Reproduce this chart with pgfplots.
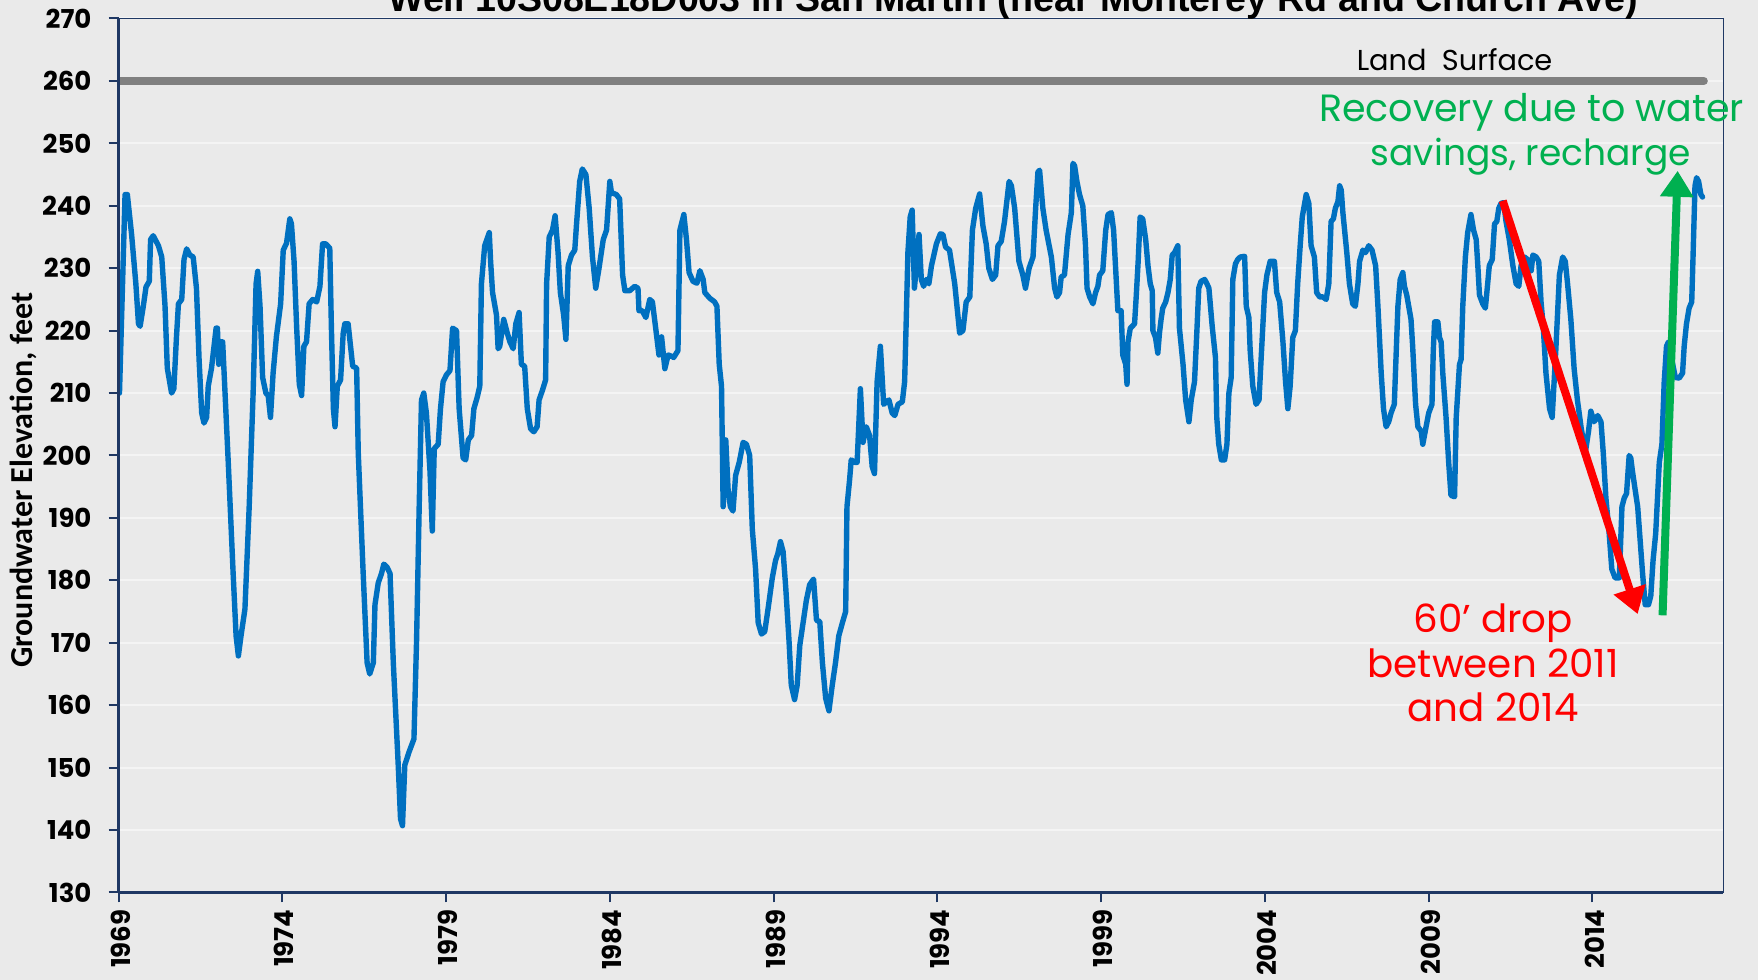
\documentclass[border=0pt]{standalone}
\usepackage{fontspec}
\usepackage{pgfplots}
\pgfplotsset{compat=1.18}
\usetikzlibrary{arrows.meta}
\setmainfont{Poppins}
\newfontfamily\tickfont{Poppins}
\newfontfamily\calfont{Carlito}
\newfontfamily\arialfont{Liberation Sans}
\definecolor{bgc}{HTML}{EAEAEA}
\definecolor{gridc}{HTML}{F4F4F4}
\definecolor{navy}{HTML}{1F3864}
\definecolor{wblue}{HTML}{0070C0}
\definecolor{xgreen}{HTML}{00B050}
\definecolor{lgray}{HTML}{808080}
\begin{document}
\begin{tikzpicture}
\fill[bgc] (0,0) rectangle (879pt,490pt);
\begin{axis}[
  at={(59.25pt,43.75pt)}, anchor=south west,
  scale only axis, width=802.5pt, height=437pt,
  xmin=1969, xmax=2018, ymin=130, ymax=270,
  clip mode=individual,
  xtick={1969,1974,...,2014}, ytick={130,140,...,270},
  axis line style={draw=navy, line width=0.9pt},
  ymajorgrids, grid style={draw=gridc, line width=1pt},
  major tick length=5pt, tick align=outside,
  tick style={draw=navy, line width=1pt},
  xtick pos=bottom, ytick pos=left,
  /pgf/number format/1000 sep={},
  /pgf/number format/assume math mode=true,
  xticklabel style={rotate=90, anchor=east, yshift=-1pt, font=\tickfont\bfseries\fontsize{13}{13}\selectfont},
  yticklabel style={xshift=-5pt, font=\tickfont\bfseries\fontsize{13}{13}\selectfont},
]
\addplot[lgray, line width=4pt, line cap=round] coordinates {(1968.5,260) (2017.4,260)};
\addplot[wblue, line width=2.7pt, line join=round, line cap=round] coordinates {
(1969.00,210) (1969.03,210) (1969.20,241.8) (1969.27,241.8) (1969.40,235.4) (1969.53,227.5) (1969.61,221.1) (1969.66,220.7) (1969.76,224) (1969.84,227) (1969.94,227.9) (1969.98,234.6) (1970.06,235.2) (1970.22,233.6) (1970.32,231.8) (1970.42,224) (1970.49,214) (1970.62,210) (1970.69,210.7) (1970.77,219) (1970.83,224.3) (1970.93,225) (1971.00,231.4) (1971.08,233.1) (1971.18,232.1) (1971.28,231.8) (1971.38,226.8) (1971.46,215.4) (1971.54,206.8) (1971.61,205.2) (1971.69,206.1) (1971.74,211.1) (1971.84,214) (1971.98,220.4) (1972.02,220.4) (1972.06,214.6) (1972.10,218.2) (1972.18,218.2) (1972.35,199) (1972.50,181.1) (1972.59,171.1) (1972.66,167.9) (1972.74,171.1) (1972.86,175.4) (1972.99,191.8) (1973.11,210) (1973.20,227.5) (1973.25,229.5) (1973.32,224) (1973.40,212.5) (1973.50,210) (1973.57,209.6) (1973.64,206.1) (1973.72,213.2) (1973.82,219) (1973.95,224.3) (1974.03,232.9) (1974.13,234) (1974.23,237.9) (1974.28,237.1) (1974.36,231.1) (1974.44,220.4) (1974.52,211.4) (1974.59,209.6) (1974.66,217.5) (1974.74,218.2) (1974.82,224.3) (1974.93,225) (1975.05,224.6) (1975.15,227.1) (1975.23,233.9) (1975.33,233.9) (1975.45,233.2) (1975.50,220.4) (1975.56,207.5) (1975.61,204.6) (1975.68,211.1) (1975.78,212.1) (1975.86,219.6) (1975.91,221.1) (1976.01,221.1) (1976.15,214.3) (1976.27,214) (1976.32,200.4) (1976.47,181.1) (1976.59,166.8) (1976.67,165) (1976.78,166.8) (1976.83,176.1) (1976.93,179.6) (1977.03,181.1) (1977.10,182.6) (1977.20,182.1) (1977.29,181.1) (1977.39,166.8) (1977.54,150.4) (1977.61,141.8) (1977.67,140.7)
(1977.74,150.4) (1977.87,152.5) (1978.02,154.6) (1978.10,170.4) (1978.18,191.8) (1978.25,208.9) (1978.32,210) (1978.40,206.8) (1978.51,197.5) (1978.58,187.9) (1978.64,201.1) (1978.76,201.8) (1978.83,207.5) (1978.91,211.8) (1979.01,212.9) (1979.12,213.6) (1979.20,220.4) (1979.32,220) (1979.40,207.5) (1979.52,199.6) (1979.60,199.3) (1979.68,202.5) (1979.78,203.2) (1979.85,207.5) (1979.95,209.3) (1980.03,211.1) (1980.08,227.5) (1980.18,233.6) (1980.32,235.7) (1980.36,231.1) (1980.42,226.1) (1980.54,222.5) (1980.59,217.1) (1980.64,217.5) (1980.76,221.8) (1980.87,219.6) (1980.95,218.2) (1981.05,217.1) (1981.13,221.1) (1981.23,222.9) (1981.30,214.6) (1981.40,214.3) (1981.48,207.5) (1981.58,204.3) (1981.68,203.8) (1981.78,204.6) (1981.84,208.9) (1981.94,210.4) (1982.04,212.1) (1982.07,227.5) (1982.15,235) (1982.25,236.1) (1982.33,238.4) (1982.42,232.5) (1982.49,226.1) (1982.59,222.5) (1982.66,218.6) (1982.73,230.4) (1982.83,232.1) (1982.93,232.9) (1982.98,236.8) (1983.08,243.9) (1983.16,245.9) (1983.27,245) (1983.37,239.6) (1983.47,231.8) (1983.57,226.8) (1983.67,230) (1983.80,234.6) (1983.90,236.1) (1984.00,243.9) (1984.05,242.1) (1984.20,241.8) (1984.30,241.1) (1984.39,228.9) (1984.46,226.4) (1984.61,226.4) (1984.76,227.1) (1984.86,226.8) (1984.89,223.2) (1984.99,223.2) (1985.10,222.1) (1985.22,225) (1985.30,224.6) (1985.40,220.4) (1985.50,216.1) (1985.58,219) (1985.68,213.9) (1985.78,216.1) (1985.88,215.9) (1985.95,215.7) (1986.08,216.8) (1986.14,236.1) (1986.26,238.6) (1986.34,234.6) (1986.42,229.3) (1986.54,227.9) (1986.66,227.6) (1986.75,229.6)
(1986.85,228.2) (1986.90,226.1) (1987.05,225.2) (1987.20,224.6) (1987.27,223.9) (1987.34,214.6) (1987.41,211.1) (1987.46,191.8) (1987.54,202.5) (1987.61,194.6) (1987.68,191.8) (1987.76,191.1) (1987.84,196.8) (1987.95,198.9) (1988.07,202.1) (1988.17,201.8) (1988.27,200) (1988.35,188.2) (1988.45,181.8) (1988.53,173.2) (1988.63,171.4) (1988.73,171.8) (1988.83,175.4) (1988.96,180.4) (1989.06,183.2) (1989.13,184.3) (1989.21,186.2) (1989.29,184.6) (1989.37,178.9) (1989.47,170.4) (1989.54,163.2) (1989.64,160.9) (1989.72,163.2) (1989.80,169.6) (1989.90,173.2) (1990.00,176.8) (1990.10,179.3) (1990.22,180.2) (1990.31,173.6) (1990.41,173.4) (1990.49,166.8) (1990.59,161.1) (1990.69,159.1) (1990.79,163.2) (1990.89,166.8) (1990.99,171.1) (1991.10,173.2) (1991.20,175) (1991.24,191.8) (1991.32,196.1) (1991.37,199.3) (1991.48,198.9) (1991.55,198.9) (1991.65,210.7) (1991.73,202.1) (1991.83,204.6) (1991.93,203.2) (1992.01,198.2) (1992.08,197.1) (1992.16,211.8) (1992.26,217.5) (1992.36,208.2) (1992.52,208.9) (1992.62,206.8) (1992.70,206.4) (1992.80,208.2) (1992.93,208.6) (1993.00,211.8) (1993.05,221.8) (1993.10,232.5) (1993.17,238.2) (1993.23,239.3) (1993.30,226.8) (1993.37,231.1) (1993.44,235.4) (1993.51,228.2) (1993.58,227.1) (1993.66,228.2) (1993.74,227.5) (1993.82,230.4) (1993.97,233.9) (1994.09,235.5) (1994.17,235.4) (1994.25,233.4) (1994.37,232.9) (1994.53,227.5) (1994.68,219.6) (1994.78,220) (1994.88,224.6) (1994.99,225.4) (1995.07,236.1) (1995.17,239.6) (1995.29,241.9)
(1995.39,236.8) (1995.49,233.9) (1995.57,230) (1995.68,228.2) (1995.78,228.9) (1995.85,233.6) (1995.95,234.3) (1996.05,237.5) (1996.19,243.9) (1996.26,243.2) (1996.36,239.6) (1996.49,231.1) (1996.61,228.9) (1996.69,226.8) (1996.80,230) (1996.92,231.8) (1997.00,239.6) (1997.07,245.4) (1997.12,245.7) (1997.22,239.6) (1997.32,236.1) (1997.48,231.8) (1997.58,226.8) (1997.65,225.4) (1997.73,226.1) (1997.78,228.6) (1997.88,228.9) (1997.99,235.4) (1998.09,238.9) (1998.14,246.8) (1998.19,246.4) (1998.26,243.9) (1998.34,241.8) (1998.44,240) (1998.52,233.9) (1998.57,226.8) (1998.65,225.4) (1998.75,224.3) (1998.83,226.1) (1998.90,227.1) (1998.95,228.9) (1999.05,229.6) (1999.14,236.1) (1999.21,238.6) (1999.31,238.9) (1999.38,236.1) (1999.46,228.2) (1999.51,223.2) (1999.61,223.2) (1999.66,216.1) (1999.75,214.6) (1999.79,211.4) (1999.82,218.2) (1999.89,220.4) (1999.95,220.7) (2000.02,221.1) (2000.07,225.4) (2000.13,231.1) (2000.19,238.2) (2000.27,237.9) (2000.36,234.6) (2000.43,230.4) (2000.50,227.5) (2000.56,226.4) (2000.58,220) (2000.66,218.9) (2000.73,216.4) (2000.78,219.6) (2000.83,221.8) (2000.88,223.6) (2000.97,224.6) (2001.04,226.1) (2001.11,228.2) (2001.17,232.1) (2001.24,232.5) (2001.34,233.6) (2001.39,220.4) (2001.50,214.6) (2001.58,208.9) (2001.68,205.4) (2001.75,208.9) (2001.85,211.8) (2001.92,219.6) (2001.98,226.8) (2002.05,227.9) (2002.16,228.2) (2002.23,227.5) (2002.29,226.8) (2002.39,220.7) (2002.49,215.7) (2002.53,206.1) (2002.59,201.8) (2002.67,199.3) (2002.77,199.3) (2002.84,201.8) (2002.90,210) (2002.97,212.5) (2003.02,228.2) (2003.10,230.7) (2003.17,231.4) (2003.25,231.8) (2003.38,231.9) (2003.43,223.9) (2003.51,222.1) (2003.55,216.8) (2003.63,211.1) (2003.73,208.2) (2003.82,208.9) (2003.89,216.1) (2003.99,226.1) (2004.06,228.9) (2004.16,231.1) (2004.29,231.1)
(2004.36,226.1) (2004.45,224.6) (2004.55,218.2) (2004.63,211.8) (2004.70,207.5) (2004.77,211.1) (2004.85,218.9) (2004.93,220) (2005.00,227.5) (2005.08,233.9) (2005.14,238.2) (2005.26,241.8) (2005.34,240.4) (2005.41,233.6) (2005.51,231.8) (2005.58,226.1) (2005.67,225.4) (2005.77,225.4) (2005.87,225) (2005.95,227.5) (2006.02,237.5) (2006.09,237.9) (2006.15,239.6) (2006.23,240.7) (2006.28,243.2) (2006.33,242.5) (2006.38,238.9) (2006.50,232.5) (2006.58,227.5) (2006.68,224.3) (2006.76,223.9) (2006.84,227.5) (2006.89,231.1) (2006.99,232.9) (2007.07,232.5) (2007.17,233.6) (2007.27,232.9) (2007.38,230.4) (2007.45,223.9) (2007.55,213.2) (2007.62,207.5) (2007.70,204.6) (2007.78,205.4) (2007.85,206.8) (2007.95,208.2) (2008.01,216.8) (2008.06,223.9) (2008.13,228.2) (2008.21,229.3) (2008.26,227.1) (2008.33,225.7) (2008.39,223.9) (2008.46,221.8) (2008.51,217.5) (2008.60,208.2) (2008.67,204.6) (2008.77,203.9) (2008.82,201.8) (2008.87,203.2) (2008.92,204.6) (2009.00,206.8) (2009.10,208.2) (2009.14,216.8) (2009.18,221.4) (2009.28,221.4) (2009.33,218.9) (2009.38,218.2) (2009.43,213.2) (2009.53,206.1) (2009.61,198.9) (2009.68,193.6) (2009.79,193.4) (2009.84,206.1) (2009.94,214.6) (2009.99,215.4) (2010.04,223.9) (2010.12,231.8) (2010.19,235.7) (2010.29,238.6) (2010.37,236.1) (2010.45,234.6) (2010.50,230.4) (2010.55,225.7) (2010.65,224.3) (2010.73,223.6) (2010.80,227.5) (2010.85,230.4) (2010.94,231.4) (2011.01,237.1) (2011.08,237.5) (2011.14,239.6) (2011.21,240.4) (2011.29,240.5) (2011.36,237.5) (2011.46,234.6) (2011.57,230.4) (2011.67,227.5) (2011.75,227.1) (2011.82,230.4) (2011.92,231.8) (2012.02,231.4) (2012.13,229.6) (2012.18,232.1) (2012.28,231.8) (2012.36,231.1) (2012.43,224.6) (2012.50,220.4) (2012.58,213.2) (2012.69,207.5) (2012.77,206.1)
(2012.88,216.8) (2012.99,228.9) (2013.09,231.8) (2013.17,231.1) (2013.24,227.5) (2013.34,221.8) (2013.44,213.9) (2013.54,208.9) (2013.65,204.6) (2013.78,200.4) (2013.88,203.9) (2013.95,207.1) (2014.05,205.4) (2014.16,206.4) (2014.26,205.4) (2014.33,200.4) (2014.41,193.2) (2014.51,187.5) (2014.59,181.8) (2014.69,180.4) (2014.82,180.4) (2014.90,191.8) (2014.97,193.2) (2015.04,193.9) (2015.12,200) (2015.17,199.6) (2015.22,197.5) (2015.32,193.9) (2015.38,191.8) (2015.45,186.8) (2015.53,181.1) (2015.61,176.1) (2015.71,176.1) (2015.78,177.5) (2015.85,183.2) (2015.93,187.5) (2016.04,198.9) (2016.12,201.8) (2016.19,211.8) (2016.26,217.5) (2016.32,218.2) (2016.42,215.4) (2016.53,212.5) (2016.65,212.4) (2016.75,213.2) (2016.80,217.5) (2016.87,221.1) (2016.95,223.6) (2017.03,224.6) (2017.07,231.8) (2017.13,243.2) (2017.18,244.5) (2017.24,243.9) (2017.31,241.8) (2017.36,241.4)
};
\draw[red, line width=4pt, -{Triangle[width=16pt,length=13pt]}] (axis cs:2011.26,240.8) -- (axis cs:2015.38,174.6);
\draw[xgreen, line width=4pt, -{Triangle[width=16pt,length=13pt]}] (axis cs:2016.14,174.4) -- (axis cs:2016.60,245.6);
\node[anchor=base, font=\fontsize{14.4}{14.4}\selectfont] at (axis cs:2009.79,261.7) {Land\ \ Surface};
\node[anchor=base, text=xgreen, font=\fontsize{19}{19}\selectfont] at (axis cs:2012.14,253.5) {Recovery due to water};
\node[anchor=base, text=xgreen, font=\fontsize{18}{18}\selectfont] at (axis cs:2012.12,246.4) {savings, recharge};
\node[anchor=base, text=red, font=\fontsize{19.4}{19.4}\selectfont] at (axis cs:2010.97,171.6) {60’ drop};
\node[anchor=base, text=red, font=\fontsize{19.4}{19.4}\selectfont] at (axis cs:2010.97,164.45) {between 2011};
\node[anchor=base, text=red, font=\fontsize{19.4}{19.4}\selectfont] at (axis cs:2010.97,157.45) {and 2014};
\draw[navy, line width=1.4pt] (rel axis cs:0,0) -- (rel axis cs:0,1);
\draw[navy, line width=1.9pt] (rel axis cs:0,0) -- (rel axis cs:1,0);
\end{axis}
\node[rotate=90, font=\calfont\bfseries\fontsize{16}{16}\selectfont] at (11.75pt,250pt) {Groundwater Elevation, feet};
\node[anchor=base, font=\arialfont\bfseries\fontsize{18.8}{18.8}\selectfont] at (506.5pt,484pt) {Well 10S08E18D003 in San Martin (near Monterey Rd and Church Ave)};
\pgfresetboundingbox
\useasboundingbox (0,0) rectangle (879pt,490pt);
\end{tikzpicture}
\end{document}
